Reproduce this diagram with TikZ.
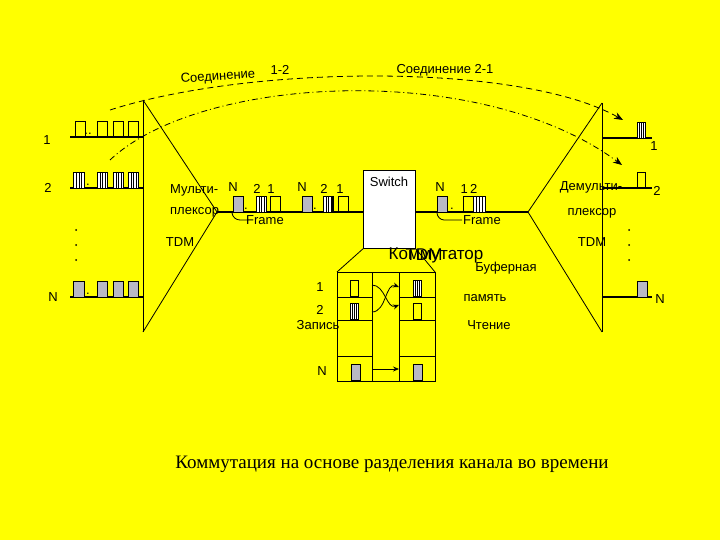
\documentclass[tikz,border=0pt]{standalone}
\usepackage{fontspec}
\setmainfont{Liberation Sans}
\newfontfamily\capfont{Liberation Serif}
\usetikzlibrary{arrows.meta}
\definecolor{bg}{RGB}{255,255,0}
\definecolor{pg}{RGB}{185,185,195}
\tikzset{
 lbl/.style={inner sep=0pt,font=\fontsize{13}{14}\selectfont},
 thickln/.style={line width=2.2pt},
 thin/.style={line width=0.8pt},
 pe/.style={draw,thin},
 pg/.style={draw,thin,fill=pg},
}
\newcommand{\pkE}[3]{\draw[pe] (#1,#3) rectangle ++(#2,-16);}
\newcommand{\pkG}[3]{\draw[pg] (#1,#3) rectangle ++(#2,-16);}
\newcommand{\pkS}[3]{\draw[pe,fill=white] (#1,#3) rectangle ++(#2,-16);
 \foreach \i in {0.3,0.55,0.8}{\draw[thin] ($(#1,#3)+(\i*#2,0)$) -- ++(0,-16);}}
\usetikzlibrary{calc}
\begin{document}
\begin{tikzpicture}[x=1pt,y=-1pt]
\fill[bg] (0,0) rectangle (720,540);
\useasboundingbox (0,0) rectangle (720,540);
% mux / demux
\draw[thin] (143,100) coordinate (m1) -- (143,332) coordinate (m2);
\draw[thin] (m1) -- (217,212) coordinate (ma) -- (m2);
\draw[thin] (602,103) coordinate (d1) -- (602,332) coordinate (d2);
\draw[thin] (d1) -- (528,212) coordinate (da) -- (d2);
% input lines
\foreach \y in {137,188,297}{\draw[thickln] (70,\y) -- (143,\y);}
\pkE{75}{10}{137}\pkE{97}{10}{137}\pkE{113}{10}{137}\pkE{128}{10}{137}
\node[lbl] at (88,134) {..};
\pkS{73}{11}{188}\pkS{97}{10}{188}\pkS{113}{10}{188}\pkS{128}{10}{188}
\node[lbl] at (88,185) {.};
\pkG{73}{11}{297}\pkG{97}{10}{297}\pkG{113}{10}{297}\pkG{128}{10}{297}
\node[lbl] at (88,294) {.};
\node[lbl] at (47,140) {1};
\node[lbl] at (48,188) {2};
\node[lbl] at (53,297) {N};
\foreach \y in {230,245,260}{\fill (76,\y) circle (1);}
% outputs
\foreach \y in {138,188,297}{\draw[thickln] (602,\y) -- (652,\y);}
\pkS{637}{8}{138}\pkE{637}{8}{188}\pkG{637}{10}{297}
\node[lbl] at (654,146) {1};
\node[lbl] at (657,191) {2};
\node[lbl] at (660,299) {N};
\foreach \y in {230,245,260}{\fill (629,\y) circle (1);}
% trunk
\draw[thickln] (217,212) -- (363,212);
\draw[thickln] (415,212) -- (528,212);
\pkG{233}{10}{212}\pkS{256}{10}{212}\pkE{270}{10}{212}
\pkG{302}{10}{212}\pkS{323}{10}{212}\pkE{338}{10}{212}
\draw[line width=2pt] (333,196) -- (333,212);
\node[lbl] at (246,209) {.};\node[lbl] at (315,209) {.};
\node[lbl] at (233,187) {N};\node[lbl] at (257,189) {2};\node[lbl] at (271,189) {1};
\node[lbl] at (302,187) {N};\node[lbl] at (324,189) {2};\node[lbl] at (340,189) {1};
\node[lbl] at (265,220) {Frame};
\draw[thin] (232,213) to[bend right=40] (240,220) -- (248,220);
\pkG{437}{10}{212}\pkE{463}{10}{212}\pkS{473}{12}{212}
\node[lbl] at (452,209) {.};
\node[lbl] at (440,187) {N};\node[lbl] at (469,189) {1\,2};
\node[lbl] at (482,220) {Frame};
\draw[thin] (437,213) to[bend right=40] (444,220) -- (462,220);
\node[lbl,anchor=west] at (170,190) {Мульти-};
\node[lbl,anchor=west] at (170,212) {плексор};
\node[lbl] at (180,242) {TDM};
\node[lbl] at (591,187) {Демульти-};
\node[lbl] at (592,213) {плексор};
\node[lbl] at (592,242) {TDM};
% switch
\node[draw,thin,fill=white,minimum width=52,minimum height=78,anchor=north west,inner sep=0pt] (sw) at (363,170) {};
\node[lbl] at (389,182) {Switch};
\node[inner sep=0pt,font=\fontsize{17}{18}\selectfont] at (436,255) {Коммутатор};
\node[inner sep=0pt,font=\fontsize{17}{18}\selectfont] at (424,255) {TDM};
% memory
\draw[thin] (sw.south west) -- (337,272);
\draw[thin] (sw.south east) -- (435,272);
\draw[thin] (337,272) rectangle (435,381);
\draw[thin] (372,272) -- (372,381);\draw[thin] (399,272) -- (399,381);
\foreach \y in {297,320,356}{\draw[thin] (337,\y) -- (372,\y);\draw[thin] (399,\y) -- (435,\y);}
\pkE{350}{8}{296}\pkS{413}{8}{296}
\pkS{350}{8}{319}\pkE{413}{8}{319}
\pkG{351}{9}{380}\pkG{413}{9}{380}
\draw[thin,-{Stealth[length=6pt,width=5pt]}] (372,285) to[out=0,in=200] (399,305);
\draw[thin,-{Stealth[length=6pt,width=5pt]}] (372,312) to[out=0,in=160] (399,287);
\draw[thin,-{Stealth[length=6pt,width=5pt]}] (372,369) -- (399,369);
\node[lbl] at (320,287) {1};
\node[lbl] at (320,310) {2};
\node[lbl] at (318,325) {Запись};
\node[lbl] at (322,371) {N};
\node[lbl] at (506,268) {Буферная};
\node[lbl] at (485,298) {память};
\node[lbl] at (489,325) {Чтение};
% connections
\draw[thin,dash pattern=on 6pt off 4pt,-{Stealth[length=9pt,width=7pt]}] (110,110) .. controls (250,65) and (520,62) .. (623,120);
\draw[thin,dash pattern=on 6pt off 3pt on 1pt off 3pt,-{Stealth[length=9pt,width=7pt]}] (110,160) .. controls (200,75) and (480,60) .. (622,165);
\node[lbl,rotate=4] at (218,77) {Соединение};
\node[lbl] at (280,70) {1-2};
\node[lbl] at (445,70) {Соединение 2-1};
\node[inner sep=0pt,font=\capfont\fontsize{19}{20}\selectfont] at (392,464) {Коммутация на основе разделения канала во времени};
\end{tikzpicture}
\end{document}
